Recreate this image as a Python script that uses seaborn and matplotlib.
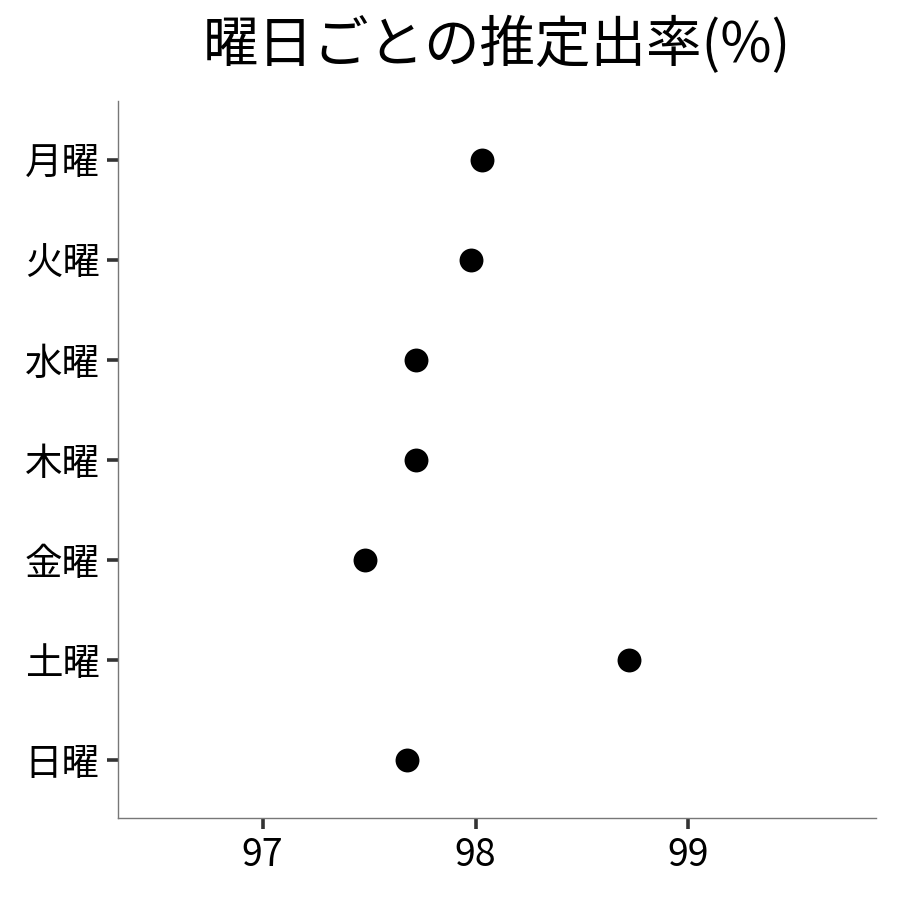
import pandas as pd
import matplotlib.pyplot as plt
import seaborn as sns

# Weekday labels and estimated rates (%)
days = ['月曜', '火曜', '水曜', '木曜', '金曜', '土曜', '日曜']
rates = [98.03, 97.98, 97.72, 97.72, 97.48, 98.72, 97.68]

df = pd.DataFrame({'day': days, 'rate': rates})

sns.set_style("ticks")
plt.rcParams['font.family'] = ['Noto Sans CJK JP', 'DejaVu Sans']

fig = plt.figure(figsize=(9, 9), dpi=100)
ax = fig.add_axes([0.131, 0.091, 0.842, 0.797])

sns.stripplot(data=df, x='rate', y='day', order=days, jitter=False,
              color='black', size=17.2, linewidth=0, ax=ax)

ax.set_xlim(96.32, 99.88)
ax.set_ylim(6.58, -0.59)
ax.set_xticks([97, 98, 99])
ax.set_xlabel('')
ax.set_ylabel('')
ax.set_title('曜日ごとの推定出率(%)', fontsize=40, color='black', pad=28)

for side in ['top', 'right']:
    ax.spines[side].set_visible(False)
for side in ['left', 'bottom']:
    ax.spines[side].set_color('#777777')
    ax.spines[side].set_linewidth(1.0)

ax.tick_params(axis='both', colors='#333333', length=8, width=2.6,
               labelsize=27, labelcolor='black', pad=5)

fig.savefig('out.png', dpi=100)
